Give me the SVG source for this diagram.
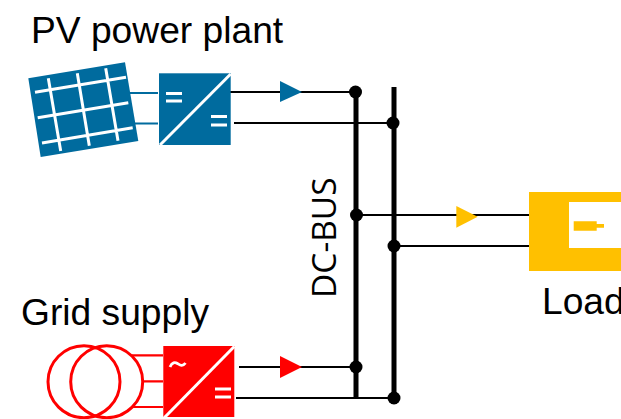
<svg xmlns="http://www.w3.org/2000/svg" width="621" height="419" viewBox="0 0 621 419">
<style>
.t{font-family:"Liberation Sans",Arial,sans-serif;font-size:37.200px;fill:#000}
.w{stroke:#000;stroke-width:2.2;fill:none}
.bus{stroke:#000;stroke-width:5;fill:none}
.dot{fill:#000}
.g{stroke:#fff;stroke-width:3;fill:none}
.tl{stroke:#006b9e;stroke-width:2;fill:none}
.rd{stroke:#f00;stroke-width:2.200;fill:none}
</style>
<rect width="621" height="419" fill="#fff"/>
<g id="connectors">
<path class="w" d="M230 92H356M234 123H394M239 367H356M236 398H394M356 215H529M394 246H529"/>
<path class="bus" d="M356 92V398M394 87V404"/>
<g class="dot"><circle cx="355.500" cy="92" r="6.500"/><circle cx="393" cy="123" r="6.500"/><circle cx="356.500" cy="215" r="6.500"/><circle cx="394" cy="246" r="6.500"/><circle cx="356" cy="367" r="6.500"/><circle cx="394" cy="398" r="6.500"/></g>
<polygon points="280,81 302,92 280,102" fill="#006b9e"/>
<polygon points="280,356 302,367 280,378" fill="#f00"/>
<polygon points="456.300,206 456.300,227.700 477.700,216.700" fill="#ffc000"/>
</g>
<g id="pv-panel">
<polygon points="28.300,78.300 125,62.300 138.300,141 40.700,157" fill="#006b9e"/>
<path class="g" d="M35 92.300L126 77.300M37.700 117.700L128.300 102.700M42 143L132.700 127.700M48.300 78.300L60.700 151M77.300 73.300L89.300 145.700M105.700 68.300L118 140.700"/>
<path class="tl" d="M130 93H158M135 123.500H158"/>
</g>
<g id="pv-converter">
<rect x="159" y="73.300" width="71.700" height="71.700" fill="#006b9e"/>
<path class="g" d="M160 145L230.700 74"/>
<path class="g" d="M166 93.500H182M166 101H182M211 116.500H227M211 125H227"/>
</g>
<g id="grid-transformer">
<circle cx="84" cy="381.700" r="36" fill="none" stroke="#f00" stroke-width="3"/>
<circle cx="106.700" cy="381.700" r="36" fill="none" stroke="#f00" stroke-width="3"/>
<path class="rd" d="M132 355.300H163M144 381.300H163M132 407H163"/>
</g>
<g id="grid-converter">
<rect x="163.300" y="346" width="71" height="71" fill="#f00"/>
<path class="g" d="M164 418L234.300 346.500"/>
<path class="g" d="M215 389H231M215 397H231"/>
<path d="M170 367c2-5 5-5 7.500-3.500s5 3.500 8-.5" fill="none" stroke="#fff" stroke-width="2.800"/>
</g>
<g id="load">
<path d="M529 192H621V202H569V248H621V271H529Z" fill="#ffc000"/>
<path d="M573.700 221.300H596.700V224H604V227.700H596.700V230.700H573.700Z" fill="#ffc000"/>
</g>
<text class="t" x="31" y="43">PV power plant</text>
<text class="t" x="21" y="325">Grid supply</text>
<text class="t" x="542" y="314">Load</text>
<text transform="translate(336 298) rotate(-90)" font-family="'Open Sans',sans-serif" font-size="33.500" fill="#000">DC-BUS</text>
</svg>
